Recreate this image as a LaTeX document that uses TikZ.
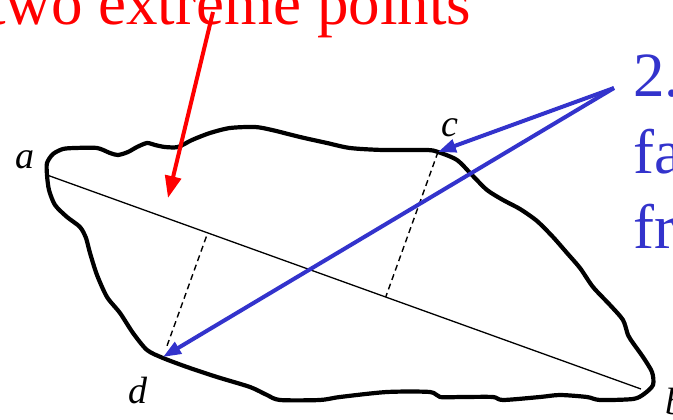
\documentclass[tikz,border=0pt]{standalone}
\usepackage{fontspec}
\setmainfont{Liberation Serif}
\usetikzlibrary{arrows.meta,positioning,calc}
\definecolor{noteblue}{RGB}{51,51,204}
\tikzset{
  rim/.style={line width=4.2pt,line join=round},
  chord/.style={line width=1.3pt},
  perp/.style={line width=1.4pt,dash pattern=on 6pt off 4pt},
  plabel/.style={font=\fontsize{38}{40}\selectfont\itshape,inner sep=0pt},
  rednote/.style={text=red,font=\fontsize{63}{76}\selectfont,inner sep=0pt,anchor=base west},
  bluenote/.style={text=noteblue,font=\fontsize{63}{76}\selectfont,inner sep=0pt,anchor=base west},
  ra/.style={-{Triangle[length=22pt,width=16pt]},red,line width=4pt},
  ba/.style={-{Triangle[length=18pt,width=13pt]},noteblue,line width=4pt}
}

\begin{document}
\begin{tikzpicture}[x=1pt,y=-1pt]
\useasboundingbox (0,0) rectangle (673,420);
\coordinate (a) at (47,175);
\coordinate (b) at (641,389);
\coordinate (c) at (438,152);
\coordinate (d) at (163,357);
\draw[rim] plot[smooth cycle,tension=0.45] coordinates {
  (47,175) (47,163) (53,154) (63,149) (75,148) (97,148) (110,153) (118,155)
  (128,152) (137,147) (147,143) (155,145) (165,147) (178,147) (192,140)
  (210,133) (230,128) (255,127) (272,130) (300,137) (327,143) (350,148)
  (383,150) (427,150) (438,152) (457,160) (472,175) (487,190) (503,200)
  (520,209) (537,221) (553,237) (567,253) (580,268) (593,287) (610,305)
  (623,320) (628,335) (633,343) (643,357) (652,372) (653,385) (644,394)
  (633,399) (600,400) (587,397) (560,395) (540,397) (503,400) (493,397)
  (463,397) (440,397) (430,392) (387,392) (340,397) (320,400) (280,400)
  (267,395) (250,387) (217,377) (187,367) (163,358) (147,350) (133,333)
  (120,313) (107,297) (97,275) (90,253) (86,238) (80,227) (67,217)
  (55,205) (49,190)};
\draw[chord] (a) -- (b);
\coordinate (cfoot) at ($(a)!(c)!(b)$);
\coordinate (dfoot) at ($(a)!(d)!(b)$);
\draw[perp] (c) -- (cfoot);
\draw[perp] ($(d)!12pt!(dfoot)$) -- (dfoot);
\node[plabel, left=12pt of a, yshift=15pt] (la) {a};
\node[plabel, right=24pt of b, yshift=-13pt] (lb) {b};
\node[plabel, above=15pt of c, xshift=12pt] (lc) {c};
\node[plabel, below=20pt of d, xshift=-25pt] (ld) {d};
\node[rednote] (extreme) at (-12,25) {two extreme points};
\node[bluenote] (step) at (633,97) {2.};
\node[bluenote] (far) at (633,173) {fa};
\node[bluenote] (from) at (633,248) {fr};
\coordinate (redtail) at (213,12);
\coordinate (redtip) at (168,198);
\coordinate (bluetail) at (614,88);
\draw[ra] (redtail) -- (redtip);
\draw[ba] (bluetail) -- (c);
\draw[ba] (bluetail) -- (d);
\end{tikzpicture}
\end{document}
